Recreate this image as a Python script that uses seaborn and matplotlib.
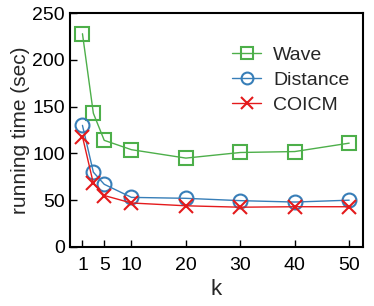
import matplotlib
matplotlib.use("Agg")
import matplotlib.pyplot as plt
import seaborn as sns
import pandas as pd

k = [1, 3, 5, 10, 20, 30, 40, 50]
wave = [228, 143, 114, 104, 95, 101, 102, 111]
distance = [130, 80, 67, 53, 52, 49.5, 48, 50]
coicm = [118, 68, 55, 47, 44, 42.5, 43, 43]
xticks = [1, 5, 10, 20, 30, 40, 50]
yticks = [0, 50, 100, 150, 200, 250]

sns.set_theme(style="ticks")
plt.rcParams['font.family'] = ['Liberation Sans', 'DejaVu Sans']

fig, ax = plt.subplots(figsize=(3.74, 3.06), dpi=100)

series = [
    ("Wave", wave, "#4daf4a", "s"),
    ("Distance", distance, "#377eb8", "o"),
    ("COICM", coicm, "#e41a1c", "x"),
]
for name, vals, col, mk in series:
    df = pd.DataFrame({"k": k, "t": vals})
    sns.lineplot(data=df, x="k", y="t", ax=ax, color=col, marker=mk,
                 markersize=10, markerfacecolor="none", markeredgecolor=col,
                 markeredgewidth=1.5, linewidth=1.0, label=name)

ax.set_xlim(-1.3, 52.5)
ax.set_ylim(0, 250)
ax.set_xticks(xticks)
ax.set_yticks(yticks)
ax.tick_params(direction="in", length=5, width=1, labelsize=14, colors="black")
ax.tick_params(axis="x", pad=7)
for s in ax.spines.values():
    s.set_linewidth(1.5)
    s.set_color("black")
ax.set_xlabel("k", fontsize=16, labelpad=4)
ax.set_ylabel("running time (sec)", fontsize=15, labelpad=2)
leg = ax.legend(loc="upper right", bbox_to_anchor=(1.0, 0.915), frameon=False,
                fontsize=14, handlelength=1.5, handletextpad=0.6,
                labelspacing=0.38, borderaxespad=0.3, markerscale=0.85)

fig.subplots_adjust(left=0.187, right=0.97, top=0.957, bottom=0.193)
fig.savefig("out.png", dpi=100)
